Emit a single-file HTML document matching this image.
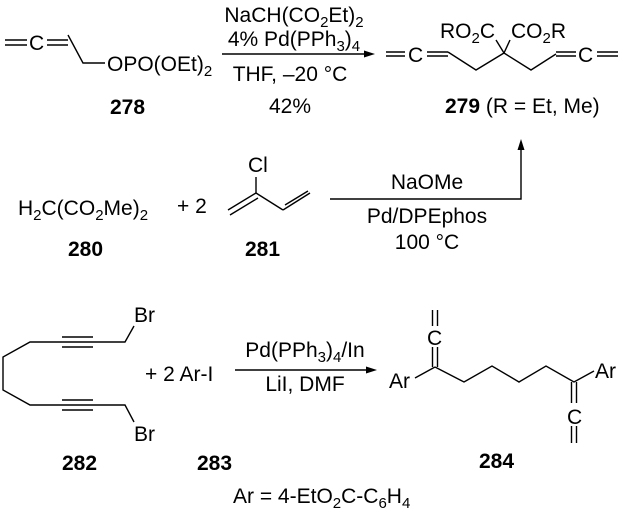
<!DOCTYPE html>
<html><head><meta charset="utf-8"><style>
html,body{margin:0;padding:0;background:#fff;}
svg{display:block;}
text{font-family:"Liberation Sans",Arial,sans-serif;font-size:21px;fill:#000;}
.b{font-weight:bold;}
.s{font-size:15px;}
</style></head><body>
<svg width="624" height="517" viewBox="0 0 624 517" xmlns="http://www.w3.org/2000/svg">
<g stroke="#000" stroke-width="1.4" fill="none">
<line x1="5" y1="40" x2="27" y2="40"/><line x1="5" y1="45" x2="27" y2="45"/>
<line x1="47" y1="40" x2="68" y2="40"/><line x1="47" y1="45" x2="68" y2="45"/>
<polyline points="68,35 83,63 105,63"/>
<line x1="222" y1="54" x2="366" y2="54"/>
<line x1="386" y1="52" x2="405" y2="52"/><line x1="386" y1="56" x2="405" y2="56"/>
<line x1="427" y1="52" x2="448" y2="52"/><line x1="427" y1="56" x2="448" y2="56"/>
<polyline points="448,52 476,70 504,53 531,70 556,54"/>
<line x1="504" y1="53" x2="496" y2="40"/><line x1="504" y1="53" x2="510" y2="40"/>
<line x1="556" y1="52" x2="576" y2="52"/><line x1="556" y1="56" x2="576" y2="56"/>
<line x1="597" y1="52" x2="618" y2="52"/><line x1="597" y1="56" x2="618" y2="56"/>
<polyline points="330,199 521,199 521,148"/>
<line x1="256" y1="193" x2="256" y2="177"/>
<line x1="228" y1="210" x2="256" y2="193"/><line x1="230" y1="215" x2="258" y2="198"/>
<line x1="256" y1="193" x2="283" y2="210"/>
<line x1="283" y1="210" x2="310" y2="193"/><line x1="285" y1="205" x2="308" y2="191"/>
<polyline points="134,326 125,342 30,342 3,357 3,390 30,405 125,405 134,422"/>
<line x1="62" y1="337" x2="93" y2="337"/><line x1="62" y1="347" x2="93" y2="347"/>
<line x1="62" y1="400" x2="93" y2="400"/><line x1="62" y1="410" x2="93" y2="410"/>
<line x1="235" y1="370" x2="368" y2="370"/>
<line x1="415" y1="378" x2="435" y2="367"/>
<line x1="432.5" y1="367" x2="432.5" y2="347"/><line x1="437.5" y1="367" x2="437.5" y2="347"/>
<line x1="432.5" y1="310" x2="432.5" y2="326"/><line x1="437.5" y1="310" x2="437.5" y2="326"/>
<polyline points="435,367 464,382 492,366 519,382 546,366 574,382 594,371"/>
<line x1="571.5" y1="382" x2="571.5" y2="403"/><line x1="576.5" y1="382" x2="576.5" y2="403"/>
<line x1="571.5" y1="426" x2="571.5" y2="443"/><line x1="576.5" y1="426" x2="576.5" y2="443"/>
</g>
<g fill="#000">
<polygon points="375,54 364,50.5 364,57.5"/>
<polygon points="521,139 517.5,150 524.5,150"/>
<polygon points="377,370 366,366.5 366,373.5"/>
</g>
<text x="29" y="50">C</text>
<text x="107" y="71">OPO(OEt)<tspan class="s" dy="5">2</tspan></text>
<text x="110" y="114" class="b">278</text>
<text x="294" y="22" text-anchor="middle">NaCH(CO<tspan class="s" dy="5">2</tspan><tspan dy="-5">Et)</tspan><tspan class="s" dy="5">2</tspan></text>
<text x="294" y="46" text-anchor="middle">4% Pd(PPh<tspan class="s" dy="5">3</tspan><tspan dy="-5">)</tspan><tspan class="s" dy="5">4</tspan></text>
<text x="290" y="81" text-anchor="middle">THF, –20 °C</text>
<text x="290" y="113" text-anchor="middle">42%</text>
<text x="408" y="62">C</text>
<text x="578" y="62">C</text>
<text x="440" y="38">RO<tspan class="s" dy="5">2</tspan><tspan dy="-5">C</tspan></text>
<text x="511" y="38">CO<tspan class="s" dy="5">2</tspan><tspan dy="-5">R</tspan></text>
<text x="445" y="113"><tspan class="b">279</tspan> (R = Et, Me)</text>
<text x="18" y="215">H<tspan class="s" dy="5">2</tspan><tspan dy="-5">C(CO</tspan><tspan class="s" dy="5">2</tspan><tspan dy="-5">Me)</tspan><tspan class="s" dy="5">2</tspan></text>
<text x="177" y="213">+  2</text>
<text x="248" y="172">Cl</text>
<text x="68" y="256" class="b">280</text>
<text x="245" y="256" class="b">281</text>
<text x="427" y="189" text-anchor="middle">NaOMe</text>
<text x="427" y="223" text-anchor="middle">Pd/DPEphos</text>
<text x="427" y="249" text-anchor="middle">100 °C</text>
<text x="134" y="322">Br</text>
<text x="134" y="441">Br</text>
<text x="145" y="381">+  2 Ar-I</text>
<text x="62" y="470" class="b">282</text>
<text x="197" y="470" class="b">283</text>
<text x="305" y="357" text-anchor="middle">Pd(PPh<tspan class="s" dy="5">3</tspan><tspan dy="-5">)</tspan><tspan class="s" dy="5">4</tspan><tspan dy="-5">/In</tspan></text>
<text x="305" y="391" text-anchor="middle">LiI, DMF</text>
<text x="389" y="388">Ar</text>
<text x="427" y="345">C</text>
<text x="595" y="378">Ar</text>
<text x="567" y="424">C</text>
<text x="479" y="468" class="b">284</text>
<text x="233" y="503">Ar = 4-EtO<tspan class="s" dy="5">2</tspan><tspan dy="-5">C-C</tspan><tspan class="s" dy="5">6</tspan><tspan dy="-5">H</tspan><tspan class="s" dy="5">4</tspan></text>
</svg>
</body></html>
